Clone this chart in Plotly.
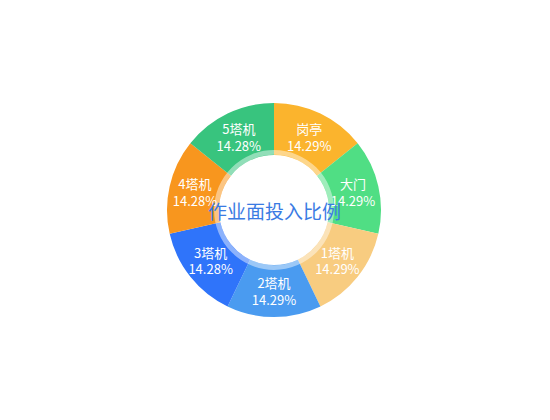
import plotly.graph_objects as go

labels = ["岗亭", "大门", "1塔机", "2塔机", "3塔机", "4塔机", "5塔机"]
values = [1, 1, 1, 1, 1, 1, 1]
percents = ["14.29%", "14.29%", "14.29%", "14.29%", "14.28%", "14.28%", "14.28%"]
colors = ["#FBB42D", "#50DE84", "#F8CC80", "#4A9BF0", "#2F74FA", "#F8961E", "#38C47E"]
title = "作业面投入比例"

FONT = "Noto Sans CJK SC, PingFang SC, sans-serif"

fig = go.Figure()
fig.add_trace(go.Pie(
    labels=labels, values=values, customdata=percents,
    marker=dict(colors=colors, line=dict(width=0)),
    hole=0.515, sort=False, direction="clockwise", rotation=0,
    texttemplate="%{label}<br>%{customdata}",
    textposition="inside", insidetextorientation="horizontal",
    textfont=dict(color="white", size=13, family=FONT),
    showlegend=False, hoverinfo="label+percent",
    domain=dict(x=[0, 1], y=[0, 1]),
))
fig.add_trace(go.Pie(
    values=[1], marker=dict(colors=["rgba(255,255,255,0.45)"], line=dict(width=0)),
    hole=0.92, sort=False, textinfo="none", showlegend=False, hoverinfo="skip",
    domain=dict(x=[0, 1], y=[0.22, 0.78]),
))
fig.add_annotation(
    text=title, x=0.5, y=0.5, xref="paper", yref="paper", showarrow=False,
    font=dict(size=19, color="#3A7BE3", family=FONT),
)
fig.update_layout(
    width=550, height=420,
    margin=dict(l=0, r=18, t=95, b=111),
    paper_bgcolor="white", plot_bgcolor="white",
    uniformtext=dict(minsize=13, mode="show"),
)
fig.write_html("out.html")
